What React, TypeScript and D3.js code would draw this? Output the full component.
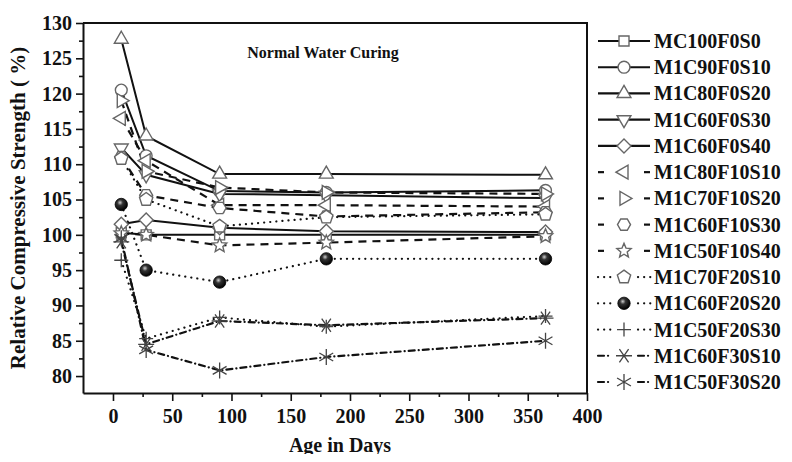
import React, { useEffect, useRef } from "react";
import * as d3 from "d3";

// ages (days) at which strength was measured
const ages = [7, 28, 90, 180, 365];

const seriesNames = [
  "MC100F0S0",
  "M1C90F0S10",
  "M1C80F0S20",
  "M1C60F0S30",
  "M1C60F0S40",
  "M1C80F10S10",
  "M1C70F10S20",
  "M1C60F10S30",
  "M1C50F10S40",
  "M1C70F20S10",
  "M1C60F20S20",
  "M1C50F20S30",
  "M1C60F30S10",
  "M1C50F30S20",
];

const MC100F0S0 = [100.3, 100, 100, 100, 100];
const M1C90F0S10 = [120.5, 111.2, 106.2, 106.0, 106.3];
const M1C80F0S20 = [127.7, 114.0, 108.6, 108.6, 108.5];
const M1C60F0S30 = [112.3, 108.5, 105.8, 105.6, 105.2];
const M1C60F0S40 = [101.5, 102.1, 101.0, 100.5, 100.4];
const M1C80F10S10 = [116.5, 110.5, 104.2, 104.2, 104.0];
const M1C70F10S20 = [119.0, 109.0, 106.7, 106.0, 105.8];
const M1C60F10S30 = [111.0, 105.6, 103.8, 102.6, 103.2];
const M1C50F10S40 = [100.2, 100.0, 98.5, 98.9, 99.8];
const M1C70F20S10 = [110.8, 105.0, 101.2, 102.5, 102.9];
const M1C60F20S20 = [104.3, 95.0, 93.3, 96.6, 96.6];
const M1C50F20S30 = [96.4, 85.3, 88.3, 87.0, 88.5];
const M1C60F30S10 = [99.0, 84.5, 87.8, 87.2, 88.2];
const M1C50F30S20 = [99.5, 83.7, 80.8, 82.7, 85.0];

const seriesValues = [
  MC100F0S0, M1C90F0S10, M1C80F0S20, M1C60F0S30, M1C60F0S40,
  M1C80F10S10, M1C70F10S20, M1C60F10S30, M1C50F10S40,
  M1C70F20S10, M1C60F20S20, M1C50F20S30, M1C60F30S10, M1C50F30S20,
];

const markers = [
  "square", "circle", "triUp", "triDown", "diamond",
  "triLeft", "triRight", "hexagon", "star",
  "pentagon", "ball", "plus", "xbar", "asterisk",
];

const lineKinds = [
  "solid", "solid", "solid", "solid", "solid",
  "dash", "dash", "dash", "dash",
  "dot", "dot", "dot", "dashdot", "dashdot",
];

const yTicks = [80, 85, 90, 95, 100, 105, 110, 115, 120, 125, 130];
const xTicks = [0, 50, 100, 150, 200, 250, 300, 350, 400];

const FONT = "'Liberation Serif', 'Times New Roman', serif";

const polygon = (n, r, rot) => {
  const pts = d3.range(n).map((i) => {
    const a = rot + (i * 2 * Math.PI) / n;
    return [r * Math.cos(a), r * Math.sin(a)];
  });
  return "M" + pts.map((p) => p.join(",")).join("L") + "Z";
};

const starPath = (r) => {
  const pts = d3.range(10).map((i) => {
    const a = -Math.PI / 2 + (i * Math.PI) / 5;
    const rr = i % 2 === 0 ? r : r * 0.45;
    return [rr * Math.cos(a), rr * Math.sin(a)];
  });
  return "M" + pts.map((p) => p.join(",")).join("L") + "Z";
};

const spokes = (angles, r) =>
  angles
    .map((deg) => {
      const a = (deg * Math.PI) / 180;
      return `M${-r * Math.cos(a)},${-r * Math.sin(a)}L${r * Math.cos(a)},${r * Math.sin(a)}`;
    })
    .join("");

const markerPath = (kind) => {
  switch (kind) {
    case "square":
      return "M-5,-5L5,-5L5,5L-5,5Z";
    case "circle":
      return d3.symbol(d3.symbolCircle, 110)();
    case "triUp":
      return polygon(3, 8, -Math.PI / 2);
    case "triDown":
      return polygon(3, 8, Math.PI / 2);
    case "triLeft":
      return polygon(3, 8, Math.PI);
    case "triRight":
      return polygon(3, 8, 0);
    case "diamond":
      return polygon(4, 7, 0);
    case "hexagon":
      return polygon(6, 6.5, 0);
    case "pentagon":
      return polygon(5, 7, -Math.PI / 2);
    case "star":
      return starPath(7.5);
    case "plus":
      return spokes([0, 90], 7);
    case "xbar":
      return spokes([0, 55, 125], 8);
    case "asterisk":
      return spokes([90, 30, 150], 8);
    default:
      return "";
  }
};

const dashFor = (kind) => {
  if (kind === "dash") return "8,6";
  if (kind === "dot") return "0.1,6";
  if (kind === "dashdot") return "6,4,0.1,4";
  return null;
};

const App = () => {
  const chartRef = useRef(null);

  useEffect(() => {
    const width = 792,
      height = 462;
    const margin = { top: 23, right: 205, bottom: 69, left: 83 };

    d3.select(chartRef.current).selectAll("*").remove();

    const svg = d3
      .select(chartRef.current)
      .append("svg")
      .attr("width", width)
      .attr("height", height)
      .style("display", "block")
      .style("font-family", FONT);

    const defs = svg.append("defs");
    const grad = defs
      .append("radialGradient")
      .attr("id", "ball")
      .attr("cx", "40%")
      .attr("cy", "35%")
      .attr("r", "65%");
    grad.append("stop").attr("offset", "0%").attr("stop-color", "#cfcfcf");
    grad.append("stop").attr("offset", "35%").attr("stop-color", "#333");
    grad.append("stop").attr("offset", "100%").attr("stop-color", "#000");

    const x = d3
      .scaleLinear()
      .domain([-25.3, 400])
      .range([margin.left, width - margin.right]);
    const y = d3
      .scaleLinear()
      .domain([77.6, 130])
      .range([height - margin.bottom, margin.top]);

    const x0 = x.range()[0],
      x1 = x.range()[1],
      y0 = y.range()[0],
      y1 = y.range()[1];

    // lines
    const line = d3
      .line()
      .x((d) => x(d[0]))
      .y((d) => y(d[1]));

    const drawStyle = (sel, kind) => {
      sel
        .attr("fill", "none")
        .attr("stroke", "#111")
        .attr("stroke-width", kind === "solid" ? 2 : 2.2)
        .attr("stroke-linecap", kind === "dot" || kind === "dashdot" ? "round" : "butt");
      const da = dashFor(kind);
      if (da) sel.attr("stroke-dasharray", da);
    };

    const drawMarker = (g, kind, cx, cy) => {
      const p = g
        .append("path")
        .attr("transform", `translate(${cx},${cy})`);
      if (kind === "ball") {
        p.attr("d", d3.symbol(d3.symbolCircle, 120)()).attr("fill", "url(#ball)").attr("stroke", "#000").attr("stroke-width", 0.8);
      } else if (kind === "plus" || kind === "xbar" || kind === "asterisk") {
        p.attr("d", markerPath(kind)).attr("fill", "none").attr("stroke", "#444").attr("stroke-width", 1.3);
      } else {
        p.attr("d", markerPath(kind)).attr("fill", "#fff").attr("stroke", "#666").attr("stroke-width", 1.4);
      }
    };

    const plot = svg.append("g");
    seriesValues.forEach((vals, i) => {
      const pts = ages.map((a, j) => [a, vals[j]]);
      plot.append("path").datum(pts).attr("d", line).call(drawStyle, lineKinds[i]);
    });
    seriesValues.forEach((vals, i) => {
      ages.forEach((a, j) => drawMarker(plot, markers[i], x(a), y(vals[j])));
    });

    // axes
    const yAxis = svg
      .append("g")
      .attr("transform", `translate(${x0},0)`)
      .call(d3.axisLeft(y).tickValues(yTicks).tickSize(7).tickPadding(4).tickSizeOuter(0));
    svg
      .append("g")
      .attr("transform", `translate(${x0},0)`)
      .call(
        d3.axisLeft(y).tickValues(yTicks.slice(0, -1).map((t) => t + 2.5)).tickSize(4).tickFormat(() => "").tickSizeOuter(0)
      )
      .call((g) => g.select(".domain").remove());

    const xAxis = svg
      .append("g")
      .attr("transform", `translate(0,${y0})`)
      .call(d3.axisBottom(x).tickValues(xTicks).tickSize(8).tickPadding(8).tickSizeOuter(0));
    svg
      .append("g")
      .attr("transform", `translate(0,${y0})`)
      .call(
        d3.axisBottom(x).tickValues(xTicks.slice(0, -1).map((t) => t + 25)).tickSize(4).tickFormat(() => "").tickSizeOuter(0)
      )
      .call((g) => g.select(".domain").remove());

    [yAxis, xAxis].forEach((g) => {
      g.selectAll("text")
        .attr("font-family", FONT)
        .attr("font-size", 20)
        .attr("font-weight", "bold")
        .attr("fill", "#111");
    });
    svg.selectAll(".tick line").attr("stroke", "#111").attr("stroke-width", 1.6);
    svg.selectAll(".domain").attr("stroke", "#111").attr("stroke-width", 2);

    // frame top / right
    svg
      .append("path")
      .attr("d", `M${x0},${y1}H${x1}V${y0}`)
      .attr("fill", "none")
      .attr("stroke", "#111")
      .attr("stroke-width", 2);

    // titles
    svg
      .append("text")
      .attr("x", 323)
      .attr("y", 58)
      .attr("text-anchor", "middle")
      .attr("font-size", 16)
      .attr("font-weight", "bold")
      .attr("fill", "#111")
      .text("Normal Water Curing");

    svg
      .append("text")
      .attr("x", 340)
      .attr("y", 452)
      .attr("text-anchor", "middle")
      .attr("font-size", 20)
      .attr("font-weight", "bold")
      .attr("fill", "#111")
      .text("Age in Days");

    svg
      .append("text")
      .attr("transform", `translate(25,${(y0 + y1) / 2}) rotate(-90)`)
      .attr("text-anchor", "middle")
      .attr("font-size", 21)
      .attr("font-weight", "bold")
      .attr("fill", "#111")
      .text("Relative Compressive Strength ( %)");

    // legend
    const legendY = d3
      .scalePoint()
      .domain(seriesNames)
      .range([41, 382]);
    const legend = svg.append("g");
    seriesNames.forEach((name, i) => {
      const ly = legendY(name);
      const kind = lineKinds[i];
      const seg =
        kind === "solid"
          ? [[598, 650]]
          : kind === "dash"
          ? [[598, 604], [644, 650]]
          : [[598, 612], [638, 652]];
      seg.forEach((s) => {
        legend
          .append("path")
          .attr("d", `M${s[0]},${ly}H${s[1]}`)
          .call(drawStyle, kind === "dash" ? "solid" : kind)
          .attr("stroke-width", 2.2);
      });
      drawMarker(legend, markers[i], 624, ly);
      legend
        .append("text")
        .attr("x", 654)
        .attr("y", ly)
        .attr("dy", "0.35em")
        .attr("font-size", 20)
        .attr("font-weight", "bold")
        .attr("fill", "#111")
        .text(name);
    });
  }, []);

  return <div ref={chartRef} style={{ margin: -8 }}></div>;
};

export default App;
